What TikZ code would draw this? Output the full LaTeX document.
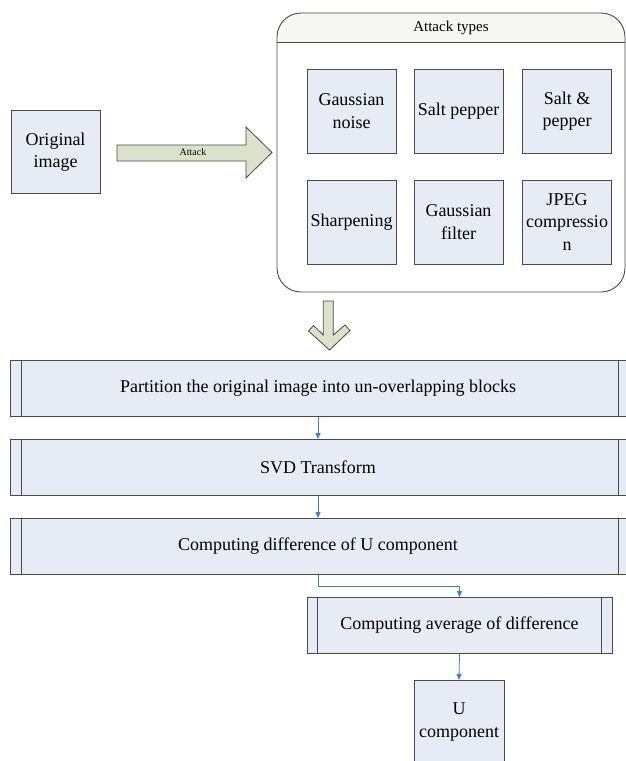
\documentclass[tikz,border=0pt]{standalone}
\usepackage{fontspec}
\setmainfont{Liberation Serif}
\usetikzlibrary{arrows.meta}
\definecolor{boxfill}{HTML}{E6EBF6}
\definecolor{boxline}{HTML}{4A4A4A}
\definecolor{arrowfill}{HTML}{DCE1CB}
\definecolor{headfill}{HTML}{F6F6F2}
\definecolor{connblue}{HTML}{4A7CC4}
\tikzset{
  blk/.style={draw=boxline, fill=boxfill, line width=0.9pt, align=center, inner sep=1pt,
    font=\fontsize{18}{22.5}\selectfont},
  sq/.style={blk, minimum width=89, minimum height=84},
  proc/.style={blk, minimum height=56},
  bar/.style={draw=boxline, line width=0.9pt},
  conn/.style={draw=connblue, line width=0.8pt, -{Triangle[length=6pt,width=5pt]}},
  blockarrow/.style={draw=boxline, fill=arrowfill, line width=0.8pt, line join=miter},
}
\begin{document}
\begin{tikzpicture}[x=1pt,y=-1pt]
\useasboundingbox (0,0) rectangle (626,761);

% original image
\node[sq, minimum width=89, minimum height=83] (orig) at (55.5,152) {Original\\image};

% attack arrow
\draw[blockarrow] (117,145) -- (246,145) -- (246,127) -- (272,152.5) -- (246,178) -- (246,161) -- (117,161) -- cycle;
\node[font=\fontsize{10}{12}\selectfont, inner sep=0pt] (attacklbl) at (193,152.5) {Attack};

% attack types container
\fill[headfill] (277,42) [rounded corners=24] -- (277,13) -- (625,13) [sharp corners] -- (625,42) -- cycle;
\node[draw=boxline, line width=0.9pt, rounded corners=24, minimum width=348, minimum height=279, inner sep=0pt] (atk) at (451,152.5) {};
\draw[bar] (atk.west |- 0,42) -- (atk.east |- 0,42);
\node[font=\fontsize{15}{18}\selectfont, inner sep=0pt] (atktitle) at (451,27.5) {Attack types};

\node[sq] (gn) at (351.5,111) {Gaussian\\noise};
\node[sq] (sp) at (458.5,111) {Salt pepper};
\node[sq] (snp) at (567,111) {Salt \&\\pepper};
\node[sq] (sh) at (351.5,222) {Sharpening};
\node[sq] (gf) at (458.5,222) {Gaussian\\filter};
\node[sq] (jp) at (567,222) {JPEG\\compressio\\n};

% down arrow
\draw[blockarrow] (323.3,301) -- (333.3,301) -- (333.3,335) -- (345,325) -- (350,330.5) -- (329.5,350) -- (308.5,331) -- (313.5,325.5) -- (323.3,335) -- cycle;

% process boxes
\node[proc, minimum width=616] (p1) at (318,388.5) {Partition the original image into un-overlapping blocks};
\node[proc, minimum width=616] (p2) at (318,467.5) {SVD Transform};
\node[proc, minimum width=616] (p3) at (318,546.5) {Computing difference of U component};
\node[proc, minimum width=305] (p4) at (459.5,625.5) {Computing average of difference};
\node[blk, minimum width=90, minimum height=100, anchor=north, text depth=0pt] (u) at (459,680) {};
\node[font=\fontsize{18}{23}\selectfont, align=center, inner sep=0pt] (utxt) at (459,722) {U\\component};

\foreach \p in {p1,p2,p3} {
  \draw[bar] ([xshift=12pt]\p.north west) -- ([xshift=12pt]\p.south west);
  \draw[bar] ([xshift=-8pt]\p.north east) -- ([xshift=-8pt]\p.south east);
}
\draw[bar] ([xshift=11pt]p4.north west) -- ([xshift=11pt]p4.south west);
\draw[bar] ([xshift=-11pt]p4.north east) -- ([xshift=-11pt]p4.south east);

% connectors
\draw[conn] (p1.south) -- (p2.north);
\draw[conn] (p2.south) -- (p3.north);
\draw[conn] (p3.south) -- ++(0,11) -| (p4.north);
\draw[conn] (p4.south) -- (u.north);
\end{tikzpicture}
\end{document}
